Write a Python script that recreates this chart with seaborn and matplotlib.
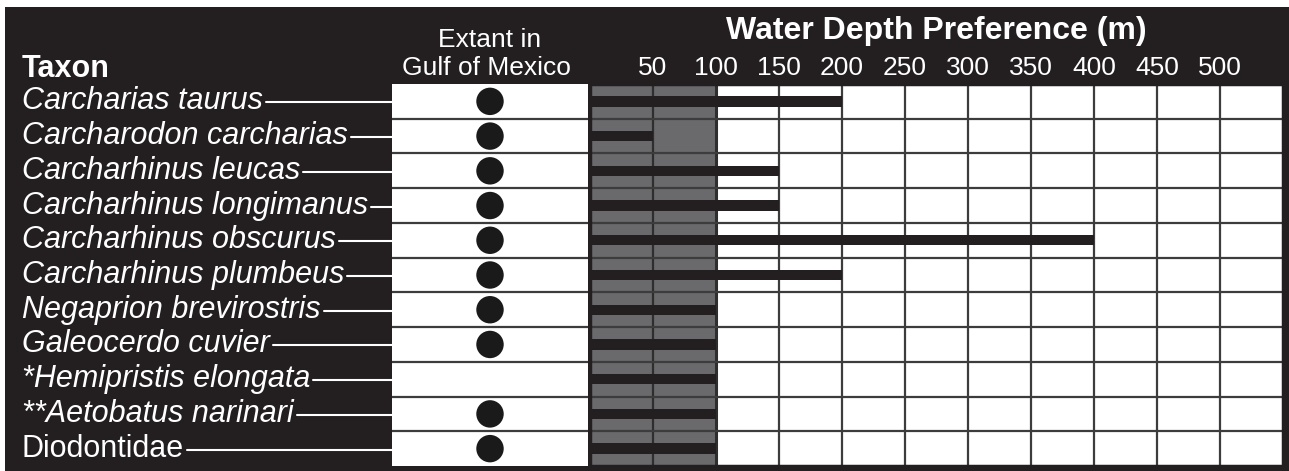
import numpy as np
import pandas as pd
import matplotlib
matplotlib.use("Agg")
import matplotlib.pyplot as plt
from matplotlib.patches import Rectangle
from matplotlib.lines import Line2D
import seaborn as sns

# ---------------- data ----------------
taxa = ["Carcharias taurus", "Carcharodon carcharias", "Carcharhinus leucas",
        "Carcharhinus longimanus", "Carcharhinus obscurus", "Carcharhinus plumbeus",
        "Negaprion brevirostris", "Galeocerdo cuvier", "*Hemipristis elongata",
        "**Aetobatus narinari", "Diodontidae"]
italic = [True, True, True, True, True, True, True, True, True, True, False]
extant_gulf = [1, 1, 1, 1, 1, 1, 1, 1, 0, 1, 1]
max_depth_m = [200, 50, 150, 150, 400, 200, 100, 100, 100, 100, 100]
depth_ticks = [50, 100, 150, 200, 250, 300, 350, 400, 450, 500]

# ---------------- style ----------------
sns.set_theme(style="white")
plt.rcParams["font.family"] = ["Liberation Sans", "DejaVu Sans"]

BG = "#231f20"
GREY = "#6a6a6c"
LINE = "#3c3c3c"
W, H = 1289, 471
fig = plt.figure(figsize=(W / 100, H / 100), dpi=100, facecolor="white")

# black panel (white strip at top and left)
fig.patches.append(Rectangle((5 / W, 0), 1 - 5 / W, 1 - 7 / H,
                             transform=fig.transFigure, facecolor=BG,
                             edgecolor="none", zorder=-10))

top_px, bot_px = 84, 466
n = len(taxa)
row_h = (bot_px - top_px) / n


def fy(px):
    return 1 - px / H


ax_bottom = fy(bot_px)
ax_height = (bot_px - top_px) / H

df = pd.DataFrame({"taxon": taxa, "depth": max_depth_m,
                   "extant": extant_gulf, "row": np.arange(n)})

# ---------------- extant column ----------------
ax_e = fig.add_axes([392 / W, ax_bottom, (588 - 392) / W, ax_height])
ax_e.set_facecolor("white")
ext = df[df["extant"] == 1].assign(xpos=0.5)
sns.scatterplot(data=ext, x="xpos", y="row", ax=ax_e, color="#1a1a1a", s=390,
                edgecolor="none", legend=False, zorder=3)
for b in np.arange(0.5, n - 0.5, 1):
    ax_e.axhline(b, color=LINE, lw=1.6, zorder=2)
ax_e.set_xlim(0, 1)
ax_e.set_ylim(n - 0.5, -0.5)
ax_e.set_xticks([]); ax_e.set_yticks([])
ax_e.set_xlabel(""); ax_e.set_ylabel("")
for s in ax_e.spines.values():
    s.set_visible(False)

# ---------------- depth grid ----------------
ax_d = fig.add_axes([590 / W, ax_bottom, (1283 - 590) / W, ax_height])
ax_d.set_facecolor("white")
ax_d.axvspan(0, 100, color=GREY, zorder=0.5, lw=0)
sns.barplot(data=df, x="depth", y="taxon", orient="h", color=BG, width=0.3,
            ax=ax_d, saturation=1, linewidth=0, zorder=3)
for v in depth_ticks:
    ax_d.axvline(v, color=LINE if v > 100 else "#2e2e2e",
                 lw=2.2 if v == 100 else 1.6, zorder=2)
for b in np.arange(0.5, n - 0.5, 1):
    ax_d.axhline(b, color=LINE, lw=1.6, zorder=2)
ax_d.set_xlim(0, 550)
ax_d.set_ylim(n - 0.5, -0.5)
ax_d.set_xticks([]); ax_d.set_yticks([])
ax_d.set_xlabel(""); ax_d.set_ylabel("")
for s in ax_d.spines.values():
    s.set_color(BG)
    s.set_linewidth(2.5)

# tick labels above grid
for v in depth_ticks:
    xfig = (590 + v / 550 * (1283 - 590)) / W
    fig.text(xfig, fy(68), str(v), color="white", fontsize=19,
             ha="center", va="center")

# ---------------- headers ----------------
fig.text(22 / W, fy(69), "Taxon", color="white", fontsize=22,
         fontweight="bold", ha="left", va="center")
fig.text(490 / W, fy(40), "Extant in", color="white", fontsize=19,
         ha="center", va="center")
fig.text(486 / W, fy(68), "Gulf of Mexico", color="white", fontsize=19,
         ha="center", va="center")
fig.text(936 / W, fy(31), "Water Depth Preference (m)", color="white",
         fontsize=23, fontweight="bold", ha="center", va="center")

# ---------------- taxon labels with leader lines ----------------
labels = []
for i, (t, it) in enumerate(zip(taxa, italic)):
    yc = top_px + (i + 0.5) * row_h
    txt = fig.text(22 / W, fy(yc), t, color="white", fontsize=22,
                   style="italic" if it else "normal", ha="left", va="center")
    labels.append((txt, yc))

fig.canvas.draw()
r = fig.canvas.get_renderer()
for txt, yc in labels:
    bb = txt.get_window_extent(renderer=r)
    x0 = bb.x1 + 3
    fig.lines.append(Line2D([x0 / W, 392 / W], [fy(yc + 1), fy(yc + 1)],
                            transform=fig.transFigure, color="white", lw=1.5))

fig.savefig("out.png", dpi=100, facecolor="white")
